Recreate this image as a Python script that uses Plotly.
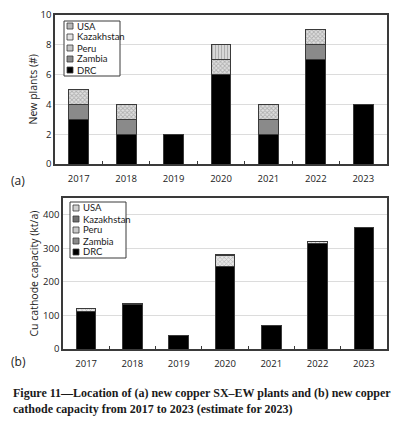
import plotly.graph_objects as go

years = ["2017", "2018", "2019", "2020", "2021", "2022", "2023"]

# (a) new plants (#)
plants_drc = [3, 2, 2, 6, 2, 7, 4]
plants_zambia = [1, 1, 0, 0, 1, 1, 0]
plants_peru = [1, 1, 0, 1, 1, 1, 0]
plants_kazakhstan = [0, 0, 0, 0, 0, 0, 0]
plants_usa = [0, 0, 0, 1, 0, 0, 0]

# (b) Cu cathode capacity (kt/a)
cap_drc = [112, 134, 40, 246, 70, 315, 363]
cap_zambia = [0, 0, 0, 0, 0, 0, 0]
cap_peru = [10, 3, 0, 34, 0, 5, 0]
cap_kazakhstan = [0, 0, 0, 0, 0, 0, 0]
cap_usa = [0, 0, 0, 3, 0, 0, 0]

legend_names = ["USA", "Kazakhstan", "Peru", "Zambia", "DRC"]

OFF = 8  # default page body margin
W, H = 399 - OFF, 421 - OFF
FONT = "Open Sans"
LFONT = "Lato"
EDGE = "#3a3a3a"


def fx(p):
    return (p - OFF) / W


def fy(p):
    return 1 - (p - OFF) / H


def px_x(a, b):
    return [fx(a), fx(b)]


def px_y(top, bottom):
    return [fy(bottom), fy(top)]


styles_a = {
    "DRC": dict(color="black"),
    "Zambia": dict(color="#8a8a8a"),
    "Peru": dict(color="white", pattern=dict(shape="x", fgcolor="#808080", bgcolor="#e0e0e0", size=3, solidity=0.5)),
    "Kazakhstan": dict(color="white", pattern=dict(shape=".", fgcolor="#a0a0a0", bgcolor="#f0f0f0", size=3, solidity=0.3)),
    "USA": dict(color="white", pattern=dict(shape="|", fgcolor="#808080", bgcolor="#dcdcdc", size=3, solidity=0.4)),
}
styles_b = {
    "DRC": dict(color="black"),
    "Zambia": dict(color="#8a8a8a"),
    "Peru": dict(color="white", pattern=dict(shape="x", fgcolor="#8a8a8a", bgcolor="#e6e6e6", size=3, solidity=0.4)),
    "Kazakhstan": dict(color="white", pattern=dict(shape="x", fgcolor="#404040", bgcolor="#b0b0b0", size=3, solidity=0.5)),
    "USA": dict(color="#d0d0d0"),
}
swatch_a = {"USA": "#b8b8b8", "Kazakhstan": "#e4e4e4", "Peru": "#c4c4c4", "Zambia": "#8a8a8a", "DRC": "black"}
swatch_b = {"USA": "#d0d0d0", "Kazakhstan": "#707070", "Peru": "#c8c8c8", "Zambia": "#8a8a8a", "DRC": "black"}

series_a = [("DRC", plants_drc), ("Zambia", plants_zambia), ("Peru", plants_peru),
            ("Kazakhstan", plants_kazakhstan), ("USA", plants_usa)]
series_b = [("DRC", cap_drc), ("Zambia", cap_zambia), ("Peru", cap_peru),
            ("Kazakhstan", cap_kazakhstan), ("USA", cap_usa)]

fig = go.Figure()
for name, vals in series_a:
    m = dict(styles_a[name])
    m["line"] = dict(color=EDGE, width=1)
    fig.add_trace(go.Bar(x=years, y=vals, name=name, marker=m, showlegend=False,
                         xaxis="x", yaxis="y"))
for name, vals in series_b:
    m = dict(styles_b[name])
    m["line"] = dict(color=EDGE, width=1)
    fig.add_trace(go.Bar(x=years, y=vals, name=name, marker=m, showlegend=False,
                         xaxis="x2", yaxis="y2"))

axis_common = dict(showline=True, linecolor=EDGE, linewidth=1.5, mirror=True, automargin=False)
tickfont = dict(family=FONT, size=9.5, color="#1a1a1a")

shapes = []
annotations = []


def add_legend(x0, y0, x1, y1, item_y, swatches):
    shapes.append(dict(type="rect", xref="paper", yref="paper",
                       x0=fx(x0), x1=fx(x1), y0=fy(y0), y1=fy(y1),
                       line=dict(color=EDGE, width=1), fillcolor="white", layer="above"))
    for name, yc in zip(legend_names, item_y):
        sx = x0 + 3
        shapes.append(dict(type="rect", xref="paper", yref="paper",
                           x0=fx(sx), x1=fx(sx + 6), y0=fy(yc - 3), y1=fy(yc + 3),
                           line=dict(color=EDGE, width=0.8), fillcolor=swatches[name], layer="above"))
        annotations.append(dict(text=name, x=fx(sx + 8), y=fy(yc), xref="paper", yref="paper",
                                xanchor="left", yanchor="middle", showarrow=False,
                                font=dict(family=LFONT, size=9.5, color="#1a1a1a")))


add_legend(64, 21, 120, 76, [26, 37, 48, 59, 70], swatch_a)
add_legend(70, 202, 126, 258, [208, 219, 230, 241, 252], swatch_b)

annotations += [
    dict(text="New plants (#)", x=fx(33), y=fy(89.5), xref="paper", yref="paper",
         xanchor="center", yanchor="middle", textangle=-90, showarrow=False,
         font=dict(family=FONT, size=10.5, color="#222")),
    dict(text="Cu cathode capacity (kt/a)", x=fx(33), y=fy(273.5), xref="paper", yref="paper",
         xanchor="center", yanchor="middle", textangle=-90, showarrow=False,
         font=dict(family=FONT, size=10.5, color="#222")),
    dict(text="(a)", x=fx(9), y=fy(180), xref="paper", yref="paper",
         xanchor="left", yanchor="middle", showarrow=False,
         font=dict(family=FONT, size=12, color="#222")),
    dict(text="(b)", x=fx(9), y=fy(361), xref="paper", yref="paper",
         xanchor="left", yanchor="middle", showarrow=False,
         font=dict(family=FONT, size=12, color="#222")),
    dict(text="<b>Figure 11—Location of (a) new copper SX–EW plants and (b) new copper<br>"
              "cathode capacity from 2017 to 2023 (estimate for 2023)</b>",
         x=fx(11), y=fy(384), xref="paper", yref="paper",
         xanchor="left", yanchor="top", align="left", showarrow=False,
         font=dict(family="Liberation Serif", size=12, color="#1a1a1a")),
]

fig.update_layout(
    width=W, height=H, autosize=False,
    margin=dict(l=0, r=0, t=0, b=0, autoexpand=False),
    paper_bgcolor="white", plot_bgcolor="white",
    barmode="stack", bargap=0.58,
    font=dict(family=FONT, size=10, color="#222"),
    showlegend=False,
    xaxis=dict(domain=px_x(55, 387), anchor="y", type="category",
               tickson="boundaries", ticks="inside", ticklen=3, tickcolor=EDGE,
               ticklabelstandoff=5,
               tickfont=tickfont, showgrid=False, **axis_common),
    yaxis=dict(domain=px_y(15, 164), anchor="x", range=[0, 10], dtick=2,
               showgrid=True, gridcolor="#dcdcdc", gridwidth=1, ticks="",
               tickfont=tickfont, zeroline=False, **axis_common),
    xaxis2=dict(domain=px_x(63, 387), anchor="y2", type="category",
                tickson="boundaries", ticks="inside", ticklen=3, tickcolor=EDGE,
                ticklabelstandoff=5,
                tickfont=tickfont, showgrid=False, **axis_common),
    yaxis2=dict(domain=px_y(198, 349), anchor="x2", range=[0, 450], dtick=100,
                showgrid=True, gridcolor="#dcdcdc", gridwidth=1, ticks="",
                tickfont=tickfont, zeroline=False, **axis_common),
    shapes=shapes,
    annotations=annotations,
)

fig.write_html("out.html")
